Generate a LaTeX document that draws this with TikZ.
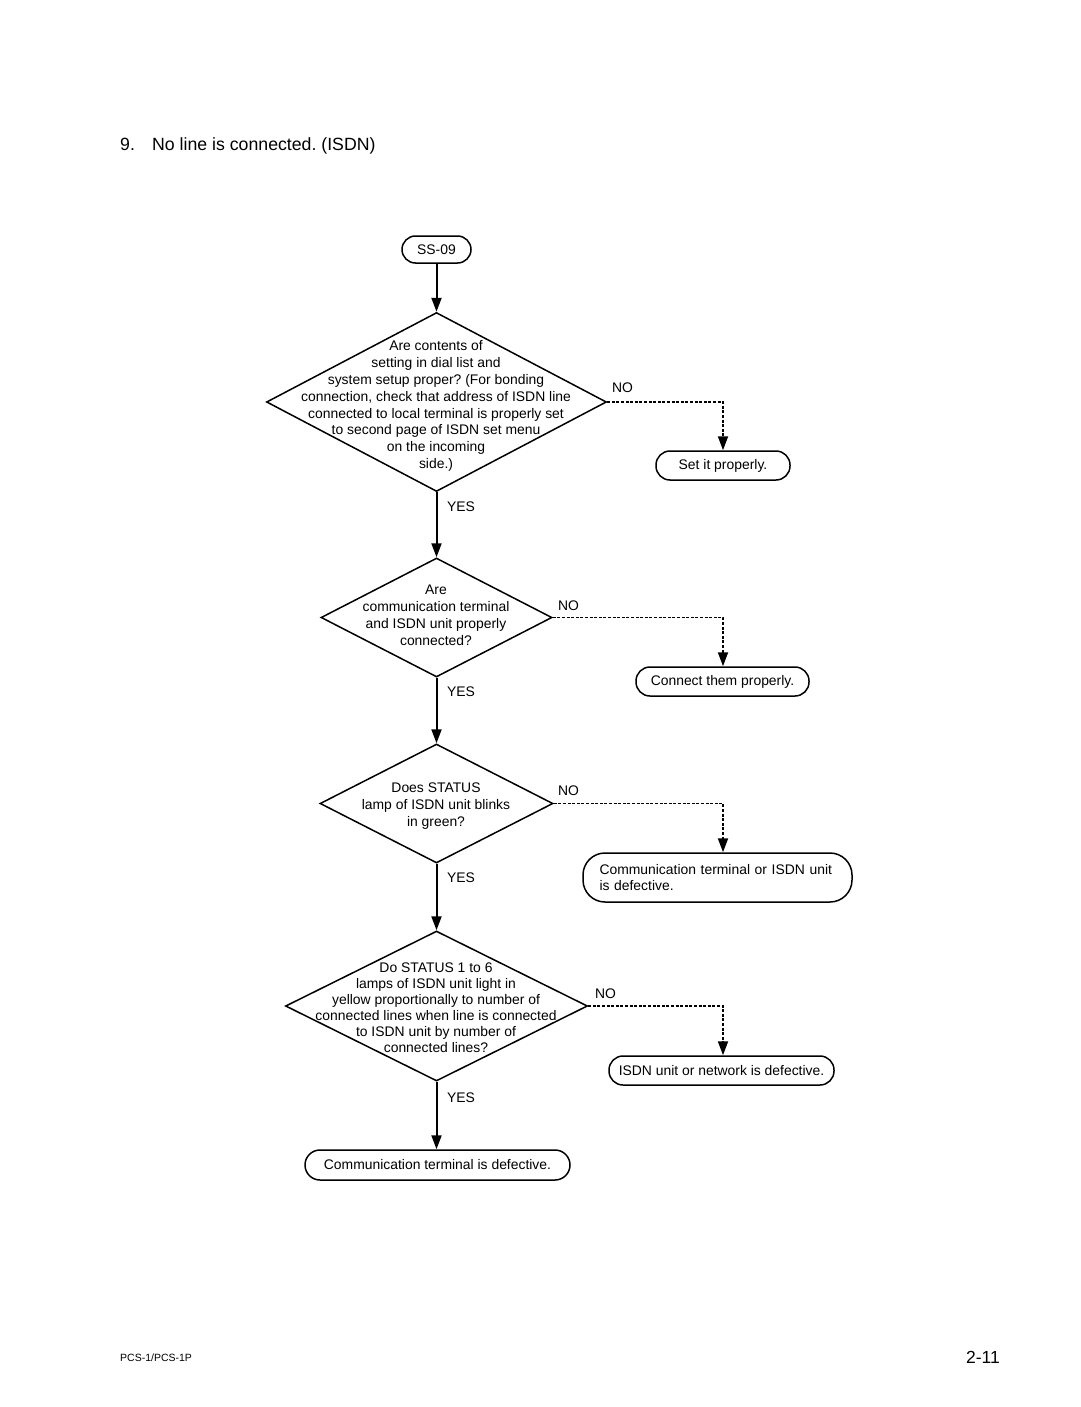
\documentclass[tikz,border=0pt]{standalone}
\usepackage{fontspec}
\setmainfont{Liberation Sans}
\usetikzlibrary{shapes.geometric,arrows.meta}
\begin{document}
\frenchspacing
\begin{tikzpicture}[x=1pt,y=-1pt,
  body/.style={font=\fontsize{13.9}{16.9}\selectfont\frenchspacing},
  dia/.style={draw,line width=1.5pt,diamond,inner sep=0pt},
  txt/.style={body,align=center,inner sep=0pt},
  term/.style={body,draw,line width=1.5pt,rectangle,inner sep=0pt},
  lbl/.style={body,inner sep=0pt,anchor=west},
  arr/.style={line width=2pt,-{Triangle[length=14pt,width=10pt]}},
  darr/.style={line width=1.9pt,dash pattern=on 3pt off 1.6pt,-{Triangle[length=14pt,width=10pt]}}
]
\useasboundingbox[fill=white] (0,0) rectangle (1080,1407);

% title
\node[inner sep=0pt,anchor=west,font=\fontsize{17.7}{20}\selectfont\frenchspacing] (title) at (120,146)
  {\makebox[32pt][l]{9.}No line is connected. (ISDN)};

% start
\node[term,rounded corners=13.5pt,minimum width=69pt,minimum height=27pt] (s) at (436.5,249.5) {SS-09};

% decision 1
\node[dia,minimum width=340pt,minimum height=179pt] (d1) at (436.5,402) {};
\node[txt] (d1t) at (436,406) {Are contents of\\setting in dial list and\\system setup proper? (For bonding\\connection, check that address of ISDN line\\connected to local terminal is properly set\\to second page of ISDN set menu\\on the incoming\\side.)};
\node[term,rounded corners=14pt,minimum width=134pt,minimum height=29pt] (b1) at (723,465.5) {Set it properly.};

% decision 2
\node[dia,minimum width=231pt,minimum height=119pt] (d2) at (436.5,617.5) {};
\node[txt] (d2t) at (436,615) {Are\\communication terminal\\and ISDN unit properly\\connected?};
\node[term,rounded corners=14pt,minimum width=173pt,minimum height=29pt] (b2) at (722.5,681.5) {Connect them properly.};

% decision 3
\node[dia,minimum width=233pt,minimum height=119pt] (d3) at (436.5,803.5) {};
\node[txt] (d3t) at (436,806) {Does STATUS\\lamp of ISDN unit blinks\\in green?};
\node[term,rounded corners=22pt,minimum width=269pt,minimum height=49pt,text width=236pt,align=left,inner xsep=16.5pt] (b3) at (717.5,877.5) {Communication terminal or ISDN unit\\is defective.};

% decision 4
\node[dia,minimum width=302pt,minimum height=150pt] (d4) at (436.5,1006) {};
\node[txt,font=\fontsize{13.9}{16}\selectfont] (d4t) at (436,1007.5) {Do STATUS 1 to 6\\lamps of ISDN unit light in\\yellow proportionally to number of\\connected lines when line is connected\\to ISDN unit by number of\\connected lines?};
\node[term,rounded corners=14pt,minimum width=225pt,minimum height=29pt] (b4) at (721.5,1070.5) {ISDN unit or network is defective.};

% end
\node[term,rounded corners=15pt,minimum width=265pt,minimum height=30pt] (e) at (437.5,1165) {Communication terminal is defective.};

% solid connectors
\draw[arr] (s.south) -- (d1.north);
\draw[arr] (d1.south) -- (d2.north);
\draw[arr] (d2.south) -- (d3.north);
\draw[arr] (d3.south) -- (d4.north);
\draw[arr] (d4.south) -- (d4.south |- e.north);

% dashed connectors
\draw[darr] (d1.east) -| (b1.north);
\draw[darr] (d2.east) -| (b2.north -| b1.north);
\draw[darr] (d3.east) -| (b3.north -| b1.north);
\draw[darr] (d4.east) -| (b4.north -| b1.north);

% labels
\node[lbl] (no1) at (612,388) {NO};
\node[lbl] (yes1) at (447,507) {YES};
\node[lbl] (no2) at (558,606) {NO};
\node[lbl] (yes2) at (447,692) {YES};
\node[lbl] (no3) at (558,791) {NO};
\node[lbl] (yes3) at (447,878) {YES};
\node[lbl] (no4) at (595,994) {NO};
\node[lbl] (yes4) at (447,1098) {YES};

% footer
\node[inner sep=0pt,anchor=west,font=\fontsize{10.5}{12}\selectfont] (foot) at (120,1358) {PCS-1/PCS-1P};
\node[inner sep=0pt,anchor=east,font=\fontsize{17.5}{20}\selectfont] (page) at (1000,1357) {2-11};
\end{tikzpicture}
\end{document}
